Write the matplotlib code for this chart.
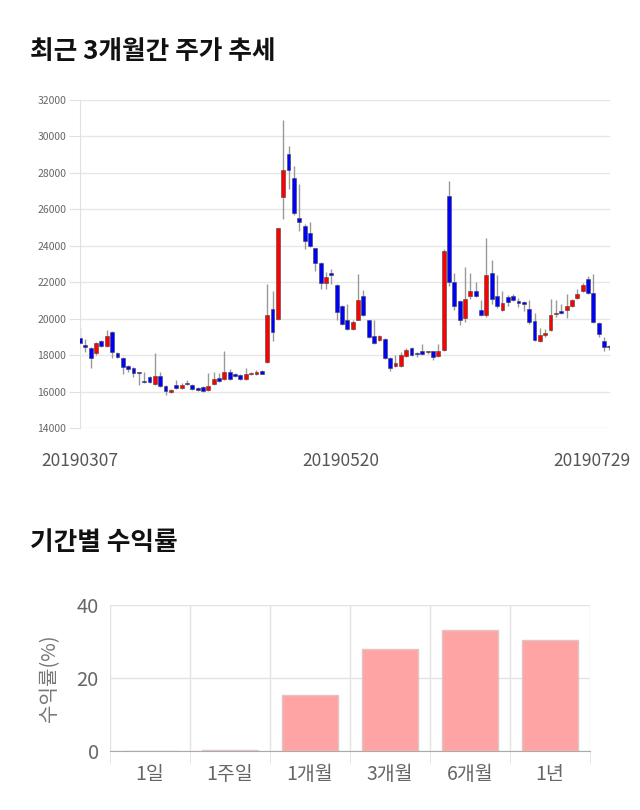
import numpy as np
import matplotlib
matplotlib.use("Agg")
import matplotlib.pyplot as plt

plt.rcParams['font.family'] = ['Noto Sans CJK KR', 'DejaVu Sans']

# daily candles, 2019-03-07 .. 2019-07-29
opens = [18950, 18550, 18400, 18100, 18800, 18500, 19250, 18100, 17850, 17400,
         17300, 17050, 16600, 16800, 16400, 16850, 16300, 15950, 16350, 16200,
         16450, 16350, 16200, 16250, 16100, 16400, 16750, 16700, 17050, 16950,
         16900, 16700, 16950, 16950, 17150, 17600, 20550, 20000, 26700, 29050,
         27700, 25500, 25100, 24700, 23850, 23050, 21950, 22500, 21850, 20700,
         19950, 19450, 19950, 21250, 19900, 19050, 18850, 18900, 17850, 17400,
         17400, 17950, 18400, 18080, 18250, 18150, 18200, 17950, 18300, 26750,
         22000, 20950, 20050, 21250, 21500, 20500, 20200, 22500, 21250, 20500,
         21200, 21250, 20950, 20900, 20550, 19850, 18750, 19100, 19400, 20250,
         20400, 20450, 20700, 21150, 21500, 22200, 21400, 19750, 18800, 18500]
highs = [19500, 18900, 18450, 18700, 18850, 19400, 19300, 18150, 17900, 17450,
         17350, 17100, 17100, 16850, 18100, 17050, 16350, 16150, 16650, 16450,
         16650, 16400, 16250, 16300, 17000, 17100, 17000, 18200, 17250, 17000,
         16950, 17300, 17050, 17200, 17200, 21900, 21500, 25000, 30900, 29500,
         28400, 27400, 25200, 25300, 23900, 23100, 22550, 22700, 21900, 20750,
         20800, 19900, 22450, 21550, 19950, 19900, 19100, 18950, 17900, 18000,
         18150, 18400, 18450, 18150, 18600, 18250, 18250, 18600, 23800, 27550,
         22500, 21000, 22850, 22500, 22000, 21000, 24400, 23200, 22400, 21500,
         21300, 21350, 21150, 20950, 21050, 20300, 19500, 19450, 21100, 21000,
         20800, 21350, 21100, 21600, 21950, 22350, 22450, 19800, 19000, 18550]
lows = [18600, 18150, 17300, 18000, 18450, 18450, 17850, 17850, 16950, 17100,
        16800, 16350, 16450, 16450, 16350, 16250, 15800, 15900, 16150, 16150,
        16350, 16100, 16050, 16000, 16050, 16350, 16550, 16650, 16650, 16800,
        16650, 16650, 16900, 16900, 16950, 17550, 18800, 19900, 25450, 27100,
        25700, 24800, 23800, 23950, 22600, 21600, 21650, 21900, 19950, 19650,
        19400, 19400, 19900, 20150, 18950, 18600, 18800, 17800, 17150, 17350,
        17350, 17900, 17950, 17900, 18000, 18050, 17750, 17900, 18250, 21800,
        20500, 19650, 19800, 21100, 21200, 20150, 20100, 20800, 20600, 20400,
        20700, 20950, 20650, 20400, 19700, 18750, 18700, 19000, 19350, 20100,
        20250, 20050, 20650, 21100, 21450, 21350, 19750, 19000, 18250, 18300]
closes = [18650, 18450, 17850, 18650, 18500, 19050, 18150, 17900, 17350, 17250,
          17000, 17000, 16500, 16500, 16850, 16300, 16050, 16100, 16200, 16350,
          16400, 16150, 16100, 16050, 16300, 16700, 16600, 17050, 16700, 16850,
          16700, 16950, 17000, 17050, 16950, 20200, 19250, 24950, 28150, 28150,
          25800, 25300, 24250, 24000, 23050, 21950, 22300, 22400, 20350, 19700,
          19450, 19800, 21050, 20200, 19000, 18650, 19050, 17850, 17300, 17550,
          18000, 18300, 18000, 18050, 18050, 18150, 17900, 18200, 23700, 22000,
          20700, 19950, 21100, 21500, 21250, 20200, 22400, 21100, 20700, 20850,
          20900, 21000, 20850, 20800, 19800, 18850, 19100, 19200, 20200, 20330,
          20300, 20700, 21000, 21350, 21850, 21400, 19800, 19150, 18450, 18450]
date_labels = ['20190307', '20190520', '20190729']
date_pos = [0, 48.8, 95.7]

periods = ['1일', '1주일', '1개월', '3개월', '6개월', '1년']
returns = [0.0, 0.2, 15.4, 27.9, 33.2, 30.3]

fig = plt.figure(figsize=(6.4, 8.1), dpi=100)

# ---- candlestick chart
ax = fig.add_axes([0.125, 0.4716, 0.828, 0.405])
x = np.arange(len(opens))
o = np.array(opens)
c = np.array(closes)
up = c >= o
body_h = np.maximum(np.abs(c - o), 60)
body_b = np.minimum(o, c)
colors = np.where(up, '#ff0000', '#0000ff')
ax.vlines(x, lows, highs, color='#999999', linewidth=1, zorder=2)
ax.bar(x, body_h, bottom=body_b, width=0.72, color=colors,
       edgecolor='#444444', linewidth=0.4, zorder=3)
ax.set_xlim(0, 99.1)
ax.set_ylim(14000, 32000)
ax.set_yticks(range(14000, 32001, 2000))
ax.grid(axis='y', color='#e6e6e6', linewidth=1)
ax.set_axisbelow(True)
for s in ['top', 'right', 'bottom']:
    ax.spines[s].set_visible(False)
ax.spines['left'].set_color('#e0e0e0')
ax.tick_params(axis='y', length=8, color='#e0e0e0', labelsize=7.5,
               labelcolor='#666666', pad=2)
ax.set_xticks(date_pos)
ax.set_xticklabels(date_labels)
ax.tick_params(axis='x', length=0, labelsize=12.5, labelcolor='#555555', pad=17)

fig.text(0.047, 0.937, '최근 3개월간 주가 추세', fontsize=18.5, fontweight='bold',
         color='#111111', va='center')

# ---- period returns
ax2 = fig.add_axes([0.1719, 0.0728, 0.75, 0.1803])
bx = np.arange(len(periods))
ax2.bar(bx, returns, width=0.7, color='#ffa4a4', edgecolor='#e3c4c4',
        linewidth=1, zorder=3)
ax2.set_xlim(-0.5, len(periods) - 0.5)
ax2.set_ylim(0, 40)
ax2.set_yticks([0, 20, 40])
ax2.grid(axis='y', color='#e3e3e3', linewidth=1)
ax2.set_xticks(bx)
ax2.set_xticklabels(periods)
ax2.set_xticks(np.arange(-0.5, len(periods), 1), minor=True)
ax2.grid(axis='x', which='minor', color='#e3e3e3', linewidth=1)
ax2.tick_params(axis='x', which='major', length=0, labelsize=14,
                labelcolor='#666666', pad=9)
ax2.tick_params(axis='x', which='minor', length=9, color='#e3e3e3')
ax2.tick_params(axis='y', length=0, labelsize=14.5, labelcolor='#666666', pad=8)
ax2.set_axisbelow(True)
for s in ['top', 'right', 'left']:
    ax2.spines[s].set_visible(False)
ax2.spines['bottom'].set_color('#aaaaaa')
ax2.set_ylabel('수익률(%)', fontsize=14.5, color='#777777', labelpad=12)

fig.text(0.047, 0.330, '기간별 수익률', fontsize=18.5, fontweight='bold',
         color='#111111', va='center')

fig.savefig('out.png', dpi=100)
